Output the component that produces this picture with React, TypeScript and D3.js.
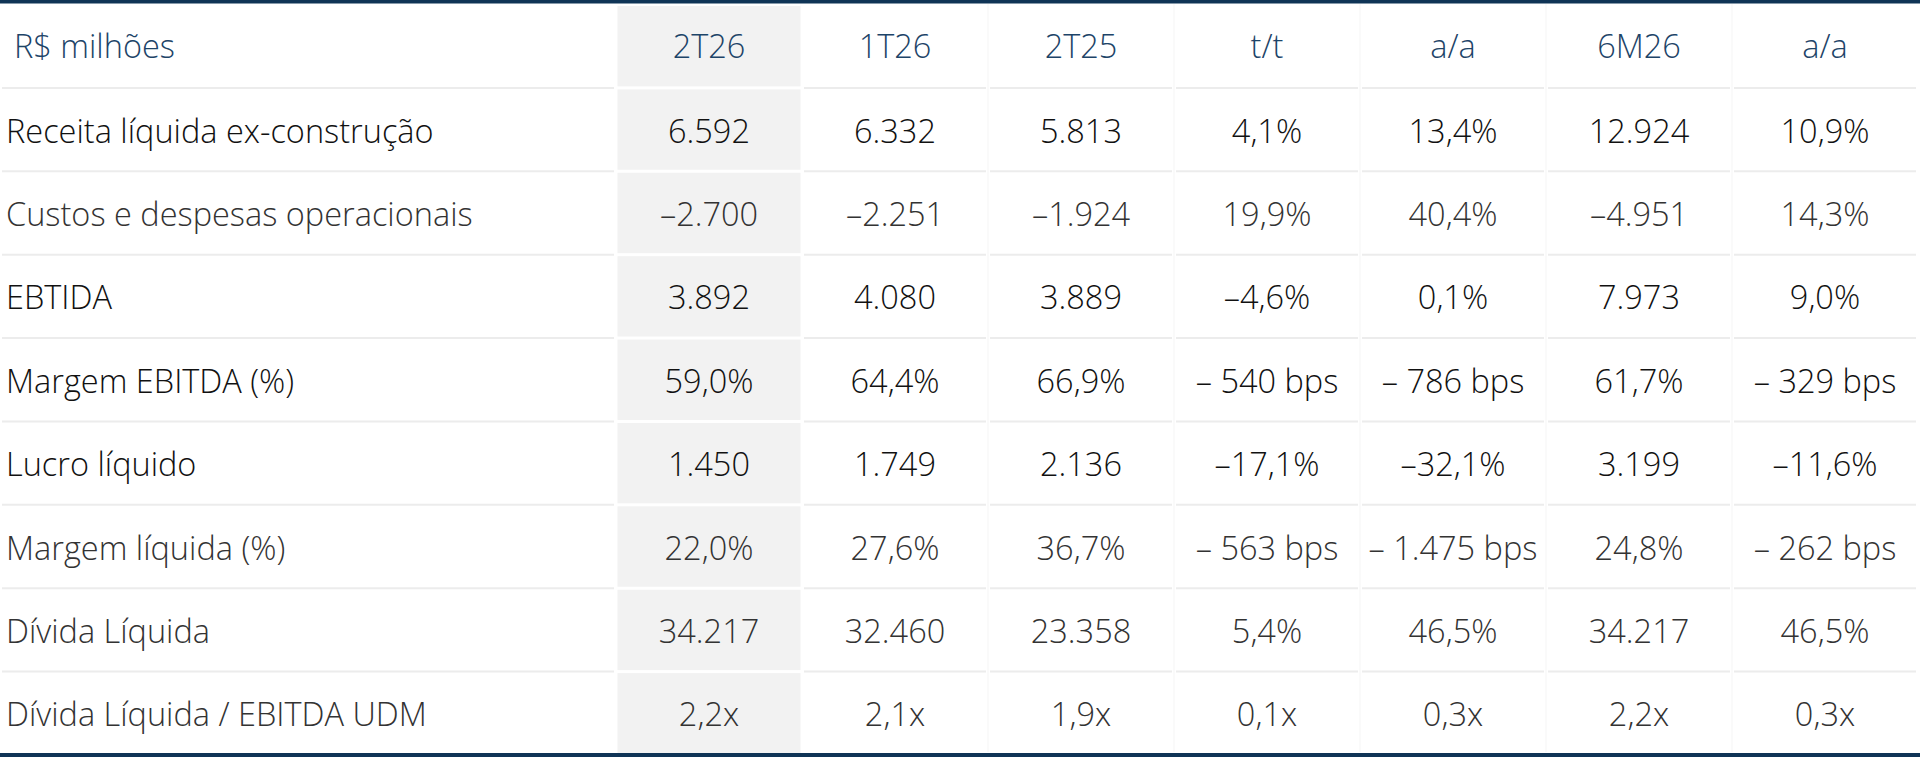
import * as d3 from 'd3';

const columns = ['2T26', '1T26', '2T25', 't/t', 'a/a', '6M26', 'a/a'];
const unitLabel = 'R$ milhões';

const rowLabels = [
  'Receita líquida ex-construção',
  'Custos e despesas operacionais',
  'EBTIDA',
  'Margem EBITDA (%)',
  'Lucro líquido',
  'Margem líquida (%)',
  'Dívida Líquida',
  'Dívida Líquida / EBITDA UDM',
];

// rows shown darker in the source
const strongRows = [true, false, true, true, true, false, false, false];

const receita = ['6.592', '6.332', '5.813', '4,1%', '13,4%', '12.924', '10,9%'];
const custos = ['–2.700', '–2.251', '–1.924', '19,9%', '40,4%', '–4.951', '14,3%'];
const ebitda = ['3.892', '4.080', '3.889', '–4,6%', '0,1%', '7.973', '9,0%'];
const margemEbitda = ['59,0%', '64,4%', '66,9%', '– 540 bps', '– 786 bps', '61,7%', '– 329 bps'];
const lucro = ['1.450', '1.749', '2.136', '–17,1%', '–32,1%', '3.199', '–11,6%'];
const margemLiquida = ['22,0%', '27,6%', '36,7%', '– 563 bps', '– 1.475 bps', '24,8%', '– 262 bps'];
const divida = ['34.217', '32.460', '23.358', '5,4%', '46,5%', '34.217', '46,5%'];
const dividaEbitda = ['2,2x', '2,1x', '1,9x', '0,1x', '0,3x', '2,2x', '0,3x'];

const values = [receita, custos, ebitda, margemEbitda, lucro, margemLiquida, divida, dividaEbitda];

const W = 1920;
const H = 760;
const labelW = 616;
const font = '"Open Sans", "Noto Sans", sans-serif';
const navy = '#0f3456';
const fs = 32.5;

export default function App() {
  const x = d3.scaleBand<string>().domain(d3.range(columns.length).map(String)).range([labelW, 1918]);
  const y = d3.scaleBand<string>().domain(d3.range(rowLabels.length + 1).map(String)).range([4.5, 755]);
  const bw = x.bandwidth();
  const bh = y.bandwidth();

  return (
    <div style={{ position: 'absolute', left: 0, top: 0 }}>
      <svg width={W} height={H} style={{ display: 'block', background: '#fff' }}>
        {/* shaded current-quarter column */}
        {d3.range(rowLabels.length + 1).map((r) => (
          <rect key={'g' + r} x={x('0')! + 1.5} y={y(String(r))! + 1.5} width={bw - 3} height={bh - 3} fill="#f2f2f2" />
        ))}
        {/* row separators */}
        {d3.range(rowLabels.length).map((r) => (
          <g key={'s' + r}>
            <line x1={2} x2={labelW - 2} y1={y(String(r))! + bh} y2={y(String(r))! + bh} stroke="#ececec" strokeWidth={2} />
            {columns.map((_, c) =>
              c === 0 ? null : (
                <line
                  key={c}
                  x1={x(String(c))! + 2}
                  x2={x(String(c))! + bw - 2}
                  y1={y(String(r))! + bh}
                  y2={y(String(r))! + bh}
                  stroke="#ececec"
                  strokeWidth={2}
                />
              ),
            )}
          </g>
        ))}
        {/* faint column dividers */}
        {columns.map((_, c) =>
          c < 2 ? null : (
            <line key={'v' + c} x1={x(String(c))!} x2={x(String(c))!} y1={4} y2={752} stroke="#f5f5f5" strokeWidth={1} />
          ),
        )}
        <rect x={0} y={0} width={W} height={3.5} fill={navy} />
        <rect x={0} y={753} width={W} height={4} fill={navy} />

        {/* header */}
        <text x={14} y={y('0')! + bh / 2} dy="0.35em" fontFamily={font} fontWeight={300} fontSize={fs} fill="#1d4468">
          {unitLabel}
        </text>
        {columns.map((c, i) => (
          <text
            key={'h' + i}
            x={x(String(i))! + bw / 2}
            y={y('0')! + bh / 2}
            dy="0.35em"
            textAnchor="middle"
            fontFamily={font}
            fontWeight={300}
            fontSize={fs}
            fill="#1d4468"
          >
            {c}
          </text>
        ))}

        {rowLabels.map((label, r) => {
          const cy = y(String(r + 1))! + bh / 2;
          const fill = strongRows[r] ? '#111' : '#333';
          return (
            <g key={'r' + r}>
              <text x={6} y={cy} dy="0.4em" fontFamily={font} fontWeight={300} fontSize={fs} fill={fill}>
                {label}
              </text>
              {values[r].map((v, c) => (
                <text
                  key={c}
                  x={x(String(c))! + bw / 2}
                  y={cy}
                  dy="0.4em"
                  textAnchor="middle"
                  fontFamily={font}
                  fontWeight={300}
                  fontSize={fs}
                  fill={fill}
                >
                  {v}
                </text>
              ))}
            </g>
          );
        })}
      </svg>
    </div>
  );
}
